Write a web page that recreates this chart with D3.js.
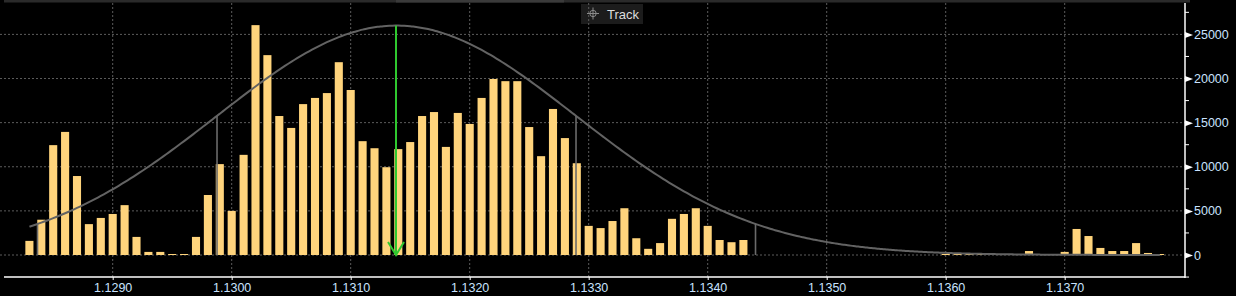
<!DOCTYPE html>
<html>
<head>
<meta charset="utf-8">
<script src="https://cdn.jsdelivr.net/npm/d3@7"></script>
<style>
  html, body { margin: 0; padding: 0; background: #000; }
  svg { display: block; }
</style>
</head>
<body>
<svg id="chart" width="1236" height="296"></svg>
<script>
// ---- data ----
const prices = [
  1.1283, 1.1284, 1.1285, 1.1286, 1.1287, 1.1288, 1.1289, 1.1290, 1.1291, 1.1292,
  1.1293, 1.1294, 1.1295, 1.1296, 1.1297, 1.1298, 1.1299, 1.1300, 1.1301, 1.1302,
  1.1303, 1.1304, 1.1305, 1.1306, 1.1307, 1.1308, 1.1309, 1.1310, 1.1311, 1.1312,
  1.1313, 1.1314, 1.1315, 1.1316, 1.1317, 1.1318, 1.1319, 1.1320, 1.1321, 1.1322,
  1.1323, 1.1324, 1.1325, 1.1326, 1.1327, 1.1328, 1.1329, 1.1330, 1.1331, 1.1332,
  1.1333, 1.1334, 1.1335, 1.1336, 1.1337, 1.1338, 1.1339, 1.1340, 1.1341, 1.1342,
  1.1343,
  1.1360, 1.1361, 1.1362, 1.1363, 1.1364, 1.1365, 1.1367,
  1.1370, 1.1371, 1.1372, 1.1373, 1.1374, 1.1375, 1.1376, 1.1377, 1.1378
];
const volumes = [
  1600, 4000, 12450, 13950, 8950, 3500, 4200, 4650, 5650, 2050,
  350, 350, 80, 80, 2050, 6800, 10300, 5000, 11350, 26050,
  22650, 15750, 14400, 17100, 17800, 18350, 21850, 18700, 12900, 12100,
  9950, 12000, 12800, 15750, 16200, 12250, 16100, 14850, 17800, 19950,
  19700, 19700, 14500, 11200, 16550, 13250, 10400, 3300, 3050, 3850,
  5300, 1900, 700, 1350, 4100, 4650, 5300, 3300, 1700, 1450,
  1700,
  100, 100, 100, 100, 100, 100, 450,
  350, 2950, 2150, 800, 450, 450, 1350, 230, 100
];
const xTicks = [1.1290, 1.1300, 1.1310, 1.1320, 1.1330, 1.1340, 1.1350, 1.1360, 1.1370];
const yTicks = [0, 5000, 10000, 15000, 20000, 25000];
const yMinorTicks = [-2500, 2500, 7500, 12500, 17500, 22500, 27500];
// fitted normal distribution parameters
const fitMean = 1.131385;
const fitSigma = 0.0015084;
const fitPeak = 26000;
const binSize = 0.0001;

// ---- layout ----
const svg = d3.select("#chart");
const plotLeft = 4, plotRight = 1185, plotTop = 3, plotBottom = 277;

const x = d3.scaleLinear().domain([1.1290, 1.1370]).range([112.7, 1064.7]);
const y = d3.scaleLinear().domain([0, 25000]).range([255, 34.4]);

const labelColor = "#c9e3ff";
const gridColor = "#5c5c5c";

// top band
svg.append("rect").attr("x", 4).attr("y", 0).attr("width", 1186).attr("height", 2.5).attr("fill", "#2a2a2a");
svg.append("rect").attr("x", 396).attr("y", 0).attr("width", 168).attr("height", 2.5).attr("fill", "#3a3a3a");

// Track button
const btn = svg.append("g");
btn.append("rect").attr("x", 581).attr("y", 4).attr("width", 62).attr("height", 20).attr("fill", "#1c1c1c");
const ic = btn.append("g").attr("transform", "translate(593,13.5)").attr("stroke", "#8a8a8a").attr("fill", "none").attr("stroke-width", 1);
ic.append("circle").attr("r", 3.2);
ic.append("line").attr("x1", -6).attr("x2", 6).attr("y1", 0).attr("y2", 0);
ic.append("line").attr("y1", -6).attr("y2", 6).attr("x1", 0).attr("x2", 0);
btn.append("text").attr("x", 607).attr("y", 18.5).attr("fill", "#dcdcdc")
  .attr("font-family", "Liberation Sans, Arial, sans-serif").attr("font-size", 13).text("Track");

// gridlines
svg.append("g").selectAll("line").data(xTicks).join("line")
  .attr("x1", d => x(d)).attr("x2", d => x(d))
  .attr("y1", plotTop).attr("y2", plotBottom)
  .attr("stroke", gridColor).attr("stroke-width", 1).attr("stroke-dasharray", "2,2");
svg.append("g").selectAll("line").data(yTicks).join("line")
  .attr("x1", 0).attr("x2", plotRight)
  .attr("y1", d => y(d)).attr("y2", d => y(d))
  .attr("stroke", gridColor).attr("stroke-width", 1).attr("stroke-dasharray", "2,2");

// bars
const barW = x(1.1290 + binSize) - x(1.1290);
svg.append("g").selectAll("rect").data(prices).join("rect")
  .attr("x", d => x(d) - barW * 0.34)
  .attr("width", barW * 0.68)
  .attr("y", (d, i) => Math.min(y(volumes[i]), y(0) - 1))
  .attr("height", (d, i) => Math.max(1, y(0) - y(volumes[i])))
  .attr("fill", "#ffd47c");

// fitted normal curve
const normal = p => fitPeak * Math.exp(-0.5 * Math.pow((p - fitMean) / fitSigma, 2));
const curvePts = d3.range(prices[0], prices[prices.length - 1] + 1e-9, binSize / 4);
svg.append("path").datum(curvePts)
  .attr("d", d3.line().x(p => x(p)).y(p => y(normal(p))).curve(d3.curveMonotoneX))
  .attr("fill", "none").attr("stroke", "#636363").attr("stroke-width", 2);

// sigma lines
const sigmaK = [-2, -1, 1, 2];
svg.append("g").selectAll("line").data(sigmaK).join("line")
  .attr("x1", k => x(fitMean + k * fitSigma)).attr("x2", k => x(fitMean + k * fitSigma))
  .attr("y1", k => y(normal(fitMean + k * fitSigma))).attr("y2", y(0))
  .attr("stroke", "#6a6a6a").attr("stroke-width", 1.6);

// mean arrow
const ax = x(fitMean) - 0.5;
const arrow = svg.append("g").attr("stroke", "#2fc82f").attr("stroke-width", 2).attr("fill", "none");
arrow.append("line").attr("x1", ax).attr("x2", ax).attr("y1", y(fitPeak)).attr("y2", y(0));
arrow.append("path").attr("d", `M${ax - 8},${y(0) - 13}L${ax},${y(0)}L${ax + 8},${y(0) - 13}`);

// x axis
svg.append("line").attr("x1", plotLeft).attr("x2", plotRight).attr("y1", plotBottom).attr("y2", plotBottom)
  .attr("stroke", "#ffffff").attr("stroke-width", 1.5);
const xAxis = d3.axisBottom(x).tickValues(xTicks).tickFormat(d3.format(".4f")).tickSize(3).tickPadding(3);
const gx = svg.append("g").attr("transform", `translate(0,${plotBottom})`).call(xAxis);
gx.select(".domain").remove();
gx.selectAll(".tick line").attr("stroke", "#ffffff");
gx.selectAll("text").attr("fill", labelColor).attr("font-family", "Liberation Sans, Arial, sans-serif").attr("font-size", 12.5);

// y axis
svg.append("line").attr("x1", plotRight).attr("x2", plotRight).attr("y1", plotTop).attr("y2", plotBottom + 1)
  .attr("stroke", "#ffffff").attr("stroke-width", 1.5);
svg.append("g").selectAll("line").data(yMinorTicks).join("line")
  .attr("x1", plotRight).attr("x2", plotRight + 4)
  .attr("y1", d => y(d)).attr("y2", d => y(d))
  .attr("stroke", "#ffffff").attr("stroke-width", 1);
const yAxis = d3.axisRight(y).tickValues(yTicks).tickFormat(d3.format("d")).tickSize(0).tickPadding(9);
const gy = svg.append("g").attr("transform", `translate(${plotRight},0)`).call(yAxis);
gy.select(".domain").remove();
gy.selectAll(".tick").append("path").attr("d", "M0,-3L8,0L0,3Z").attr("fill", "#ffffff");
gy.selectAll("text").attr("fill", labelColor).attr("font-family", "Liberation Sans, Arial, sans-serif").attr("font-size", 12.5);
</script>
</body>
</html>
